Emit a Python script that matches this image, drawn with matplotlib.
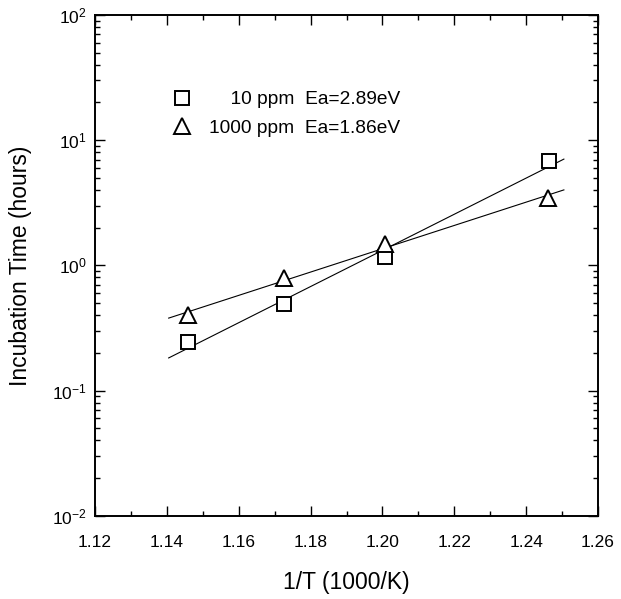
import numpy as np
import matplotlib
matplotlib.use("Agg")
import matplotlib.pyplot as plt
from matplotlib.ticker import LogLocator, MultipleLocator, NullFormatter
from matplotlib.lines import Line2D

plt.rcParams['font.family'] = ['Liberation Sans', 'DejaVu Sans']
plt.rcParams['mathtext.fontset'] = 'custom'
plt.rcParams['mathtext.rm'] = 'Liberation Sans'
plt.rcParams['mathtext.it'] = 'Liberation Sans:italic'
plt.rcParams['axes.unicode_minus'] = False

# data
x_10ppm = [1.1458, 1.1725, 1.2008, 1.2464]
t_10ppm = [0.245, 0.49, 1.17, 6.8]
x_1000ppm = [1.146, 1.1725, 1.2008, 1.246]
t_1000ppm = [0.40, 0.79, 1.47, 3.47]
label_10ppm = "    10 ppm  Ea=2.89eV"
label_1000ppm = "1000 ppm  Ea=1.86eV"
fit_range = [1.1405, 1.2505]

fig = plt.figure(figsize=(6.21, 5.99), dpi=100)
ax = fig.add_axes([0.153, 0.139, 0.810, 0.836])

xf = np.array(fit_range)
for xs, ts in [(x_10ppm, t_10ppm), (x_1000ppm, t_1000ppm)]:
    p = np.polyfit(xs, np.log10(ts), 1)
    ax.plot(xf, 10 ** np.polyval(p, xf), color='black', lw=0.8, zorder=2)

ax.plot(x_10ppm, t_10ppm, ls='none', marker='s', ms=9.5, mfc='white',
        mec='black', mew=1.4, zorder=3)
ax.plot(x_1000ppm, t_1000ppm, ls='none', marker='^', ms=11.5, mfc='white',
        mec='black', mew=1.4, zorder=3)

ax.set_yscale('log')
ax.set_xlim(1.12, 1.26)
ax.set_ylim(1e-2, 1e2)
ax.xaxis.set_major_locator(MultipleLocator(0.02))
ax.xaxis.set_minor_locator(MultipleLocator(0.01))
ax.set_xticklabels([f"{v:.2f}" for v in ax.get_xticks()])
ax.yaxis.set_major_locator(LogLocator(base=10, numticks=10))
ax.yaxis.set_minor_locator(LogLocator(base=10, subs=np.arange(2, 10), numticks=10))
ax.yaxis.set_minor_formatter(NullFormatter())

ax.tick_params(which='both', direction='in', top=True, right=True,
               labelsize=12.5, width=1.0)
ax.tick_params(which='major', length=7)
ax.tick_params(which='minor', length=3.5)
ax.tick_params(axis='x', pad=14)
ax.tick_params(axis='y', pad=6)
for s in ax.spines.values():
    s.set_linewidth(1.4)

ax.set_xlabel("1/T (1000/K)", fontsize=16.5, labelpad=15)
ax.set_ylabel("Incubation Time (hours)", fontsize=16.5, labelpad=14)

handles = [Line2D([], [], ls='none', marker='s', ms=9.5, mfc='white', mec='black', mew=1.4),
           Line2D([], [], ls='none', marker='^', ms=11.5, mfc='white', mec='black', mew=1.4)]
ax.legend(handles, [label_10ppm, label_1000ppm], loc='upper left',
          bbox_to_anchor=(0.117, 0.883), frameon=False, fontsize=13.8,
          handlelength=1.1, handletextpad=0.9, labelspacing=0.6)

fig.savefig("out.png", dpi=100)
